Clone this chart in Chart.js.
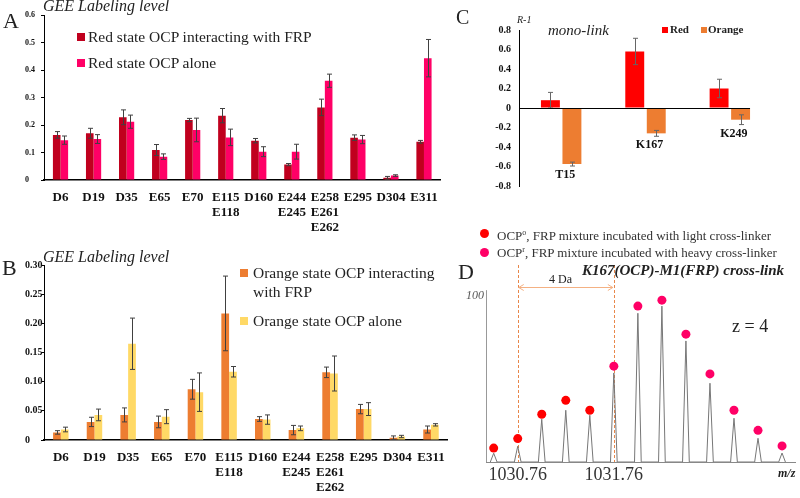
<!DOCTYPE html>
<html>
<head>
<meta charset="utf-8">
<script src="https://cdn.jsdelivr.net/npm/chart.js@4/dist/chart.umd.min.js"></script>
<style>
  body { margin: 0; background: #fff; }
  #page { position: relative; width: 800px; height: 498px; overflow: hidden;
          font-family: 'Times New Roman', 'Liberation Serif', serif; color: #222; }
  canvas { position: absolute; }
  .t { position: absolute; white-space: nowrap; line-height: 1; }
  .sq { position: absolute; }
  .dot { position: absolute; width: 9px; height: 9px; border-radius: 50%; }
</style>
</head>
<body>
<div id="page">
  <canvas id="chartA" width="450" height="240" style="left:0;top:0"></canvas>
  <canvas id="chartB" width="455" height="258" style="left:0;top:240px"></canvas>
  <canvas id="chartC" width="350" height="200" style="left:450px;top:0"></canvas>
  <canvas id="chartD" width="345" height="298" style="left:455px;top:200px"></canvas>

  <!-- panel A -->
  <div class="t" style="left:3px;top:10px;font-size:22px">A</div>
  <div class="t" style="left:43px;top:-2px;font-size:16px;font-style:italic">GEE Labeling level</div>
  <div class="sq" style="left:77px;top:33px;width:8px;height:8px;background:#C0001E"></div>
  <div class="t" style="left:88px;top:29px;font-size:15.5px">Red state OCP interacting with FRP</div>
  <div class="sq" style="left:77px;top:59px;width:8px;height:8px;background:#FF0066"></div>
  <div class="t" style="left:88px;top:55px;font-size:15.5px">Red state OCP alone</div>

  <!-- panel B -->
  <div class="t" style="left:2px;top:257px;font-size:22px">B</div>
  <div class="t" style="left:43px;top:249px;font-size:16px;font-style:italic">GEE Labeling level</div>
  <div class="sq" style="left:240px;top:269px;width:8px;height:8px;background:#ED7D31"></div>
  <div class="t" style="left:253px;top:265px;font-size:15.5px;line-height:19px;margin-top:-2px">Orange state OCP interacting<br>with FRP</div>
  <div class="sq" style="left:240px;top:317px;width:8px;height:8px;background:#FFD966"></div>
  <div class="t" style="left:253px;top:313px;font-size:15.5px">Orange state OCP alone</div>

  <!-- panel C -->
  <div class="t" style="left:456px;top:7px;font-size:20px">C</div>
  <div class="t" style="left:517px;top:15px;font-size:10px;font-style:italic">R-1</div>
  <div class="t" style="left:548px;top:23px;font-size:15px;font-style:italic">mono-link</div>
  <div class="sq" style="left:662px;top:27px;width:6px;height:6px;background:#FF0000"></div>
  <div class="t" style="left:670px;top:24px;font-size:11px;font-weight:bold">Red</div>
  <div class="sq" style="left:701px;top:27px;width:6px;height:6px;background:#ED7D31"></div>
  <div class="t" style="left:708px;top:24px;font-size:11px;font-weight:bold">Orange</div>

  <!-- panel D -->
  <div class="dot" style="left:480px;top:229px;background:#FF0000"></div>
  <div class="t" style="left:497px;top:229px;font-size:13px;color:#333">OCP<sup style="font-size:8px">o</sup>, FRP mixture incubated with light cross-linker</div>
  <div class="dot" style="left:480px;top:248px;background:#FF0066"></div>
  <div class="t" style="left:497px;top:246px;font-size:13px;color:#333">OCP<sup style="font-size:8px">r</sup>, FRP mixture incubated with heavy cross-linker</div>
  <div class="t" style="left:458px;top:261px;font-size:22px">D</div>
  <div class="t" style="left:549px;top:273px;font-size:12px">4 Da</div>
  <div class="t" style="left:582px;top:263px;font-size:15px;font-weight:bold;font-style:italic">K167(OCP)-M1(FRP) cross-link</div>
  <div class="t" style="left:732px;top:317px;font-size:18px">z = 4</div>
  <div class="t" style="left:778px;top:467px;font-size:12px;font-weight:bold;font-style:italic">m/z</div>
</div>

<script>
const serif = "'Times New Roman', 'Liberation Serif', serif";

// A and B: GEE labeling per residue
const residueLabels = ['D6', 'D19', 'D35', 'E65', 'E70', ['E115', 'E118'], 'D160',
  ['E244', 'E245'], ['E258', 'E261', 'E262'], 'E295', 'D304', 'E311'];
const redWithFrp = [0.164, 0.170, 0.228, 0.109, 0.218, 0.234, 0.143, 0.056, 0.264, 0.154, 0.008, 0.139];
const redWithFrpErr = [0.012, 0.018, 0.027, 0.020, 0.006, 0.026, 0.008, 0.004, 0.030, 0.010, 0.005, 0.005];
const redAlone = [0.145, 0.149, 0.212, 0.085, 0.182, 0.155, 0.103, 0.103, 0.361, 0.147, 0.016, 0.443];
const redAloneErr = [0.015, 0.016, 0.024, 0.010, 0.043, 0.030, 0.018, 0.027, 0.024, 0.015, 0.003, 0.068];
const orangeWithFrp = [0.013, 0.031, 0.043, 0.031, 0.087, 0.217, 0.036, 0.017, 0.116, 0.053, 0.004, 0.018];
const orangeWithFrpErr = [0.003, 0.008, 0.012, 0.010, 0.017, 0.064, 0.004, 0.008, 0.009, 0.008, 0.003, 0.006];
const orangeAlone = [0.018, 0.043, 0.165, 0.040, 0.082, 0.117, 0.035, 0.020, 0.114, 0.053, 0.006, 0.026];
const orangeAloneErr = [0.004, 0.010, 0.044, 0.012, 0.033, 0.009, 0.008, 0.004, 0.030, 0.011, 0.002, 0.002];

// C: mono-link R-1
const monoSites = ['T15', 'K167', 'K249'];
const monoRed = [0.08, 0.58, 0.20];
const monoRedErr = [0.08, 0.135, 0.095];
const monoOrange = [-0.575, -0.26, -0.12];
const monoOrangeErr = [0.02, 0.03, 0.05];

// D: isotope cluster of the cross-link (z = 4)
const peakMz = [1030.51, 1030.76, 1031.01, 1031.26, 1031.51, 1031.76, 1032.01,
  1032.26, 1032.51, 1032.76, 1033.01, 1033.26, 1033.51];
const peakIntensity = [5.3, 9.5, 25.8, 31.2, 28.2, 53.7, 89.7, 94.0, 73.0, 47.5, 26.4, 14.3, 5.4];
const markerIntensity = [8.4, 14.1, 28.8, 37.2, 31.2, 57.8, 94.0, 97.6, 77.1, 53.1, 31.2, 19.1, 9.7];
const lightPeakCount = 5;
const mzTicks = [1030.76, 1031.76];

const errorBars = {
  id: 'errorBars',
  afterDatasetsDraw(chart) {
    const ctx = chart.ctx, y = chart.scales.y;
    chart.data.datasets.forEach((ds, i) => {
      if (!ds.errors) return;
      const meta = chart.getDatasetMeta(i);
      ctx.save();
      ctx.strokeStyle = ds.errorColor || '#404040';
      ctx.lineWidth = 1;
      meta.data.forEach((bar, j) => {
        const top = y.getPixelForValue(ds.data[j] + ds.errors[j]);
        const bot = y.getPixelForValue(ds.data[j] - ds.errors[j]);
        const x = Math.round(bar.x) + 0.5;
        ctx.beginPath();
        ctx.moveTo(x, top); ctx.lineTo(x, bot);
        ctx.moveTo(x - 2.5, top); ctx.lineTo(x + 2.5, top);
        ctx.moveTo(x - 2.5, bot); ctx.lineTo(x + 2.5, bot);
        ctx.stroke();
      });
      ctx.restore();
    });
  }
};

function labelingChart(id, sets, yMax, yStep, tickSize, pad, xHeight) {
  return new Chart(document.getElementById(id), {
    type: 'bar',
    data: {
      labels: residueLabels,
      datasets: sets.map(s => ({
        data: s.data, errors: s.err, backgroundColor: s.color,
        categoryPercentage: 0.46, barPercentage: 1.0
      }))
    },
    options: {
      responsive: false,
      animation: false,
      layout: { padding: pad },
      plugins: { legend: { display: false }, tooltip: { enabled: false } },
      scales: {
        x: {
          grid: { display: false, drawTicks: false },
          border: { color: '#000', width: 1.5 },
          ticks: {
            color: '#111', padding: 10, autoSkip: false, maxRotation: 0,
            font: { family: serif, size: 13, weight: 'bold', lineHeight: 1.15 }
          },
          afterFit(s) { s.height = xHeight; }
        },
        y: {
          min: 0, max: yMax,
          grid: { drawOnChartArea: false, tickLength: 3, color: '#000' },
          border: { color: '#000', width: 1 },
          ticks: {
            stepSize: yStep, crossAlign: 'far', color: '#111',
            font: { family: serif, size: tickSize, weight: 'bold' }
          },
          afterFit(s) { s.width = 44 - pad.left; }
        }
      }
    },
    plugins: [errorBars]
  });
}

labelingChart('chartA', [
  { data: redWithFrp, err: redWithFrpErr, color: '#C0001E' },
  { data: redAlone, err: redAloneErr, color: '#FF0066' }
], 0.6, 0.1, 8, { left: 25, top: 15, right: 9.5, bottom: 0 }, 60);

labelingChart('chartB', [
  { data: orangeWithFrp, err: orangeWithFrpErr, color: '#ED7D31' },
  { data: orangeAlone, err: orangeAloneErr, color: '#FFD966' }
], 0.3, 0.05, 10, { left: 25, top: 25, right: 6.5, bottom: 0 }, 58);

// C: zero line and site labels under the bars
const monoDecor = {
  id: 'monoDecor',
  afterDatasetsDraw(chart) {
    const { ctx, chartArea, scales: { x, y } } = chart;
    const orangeMeta = chart.getDatasetMeta(1);
    const last = orangeMeta.data[orangeMeta.data.length - 1];
    const y0 = Math.round(y.getPixelForValue(0)) + 0.5;
    ctx.save();
    ctx.strokeStyle = '#000';
    ctx.lineWidth = 1;
    ctx.beginPath();
    ctx.moveTo(chartArea.left, y0);
    ctx.lineTo(last.x + last.width / 2, y0);
    ctx.stroke();
    ctx.fillStyle = '#111';
    ctx.font = 'bold 12px ' + serif;
    ctx.textAlign = 'center';
    ctx.textBaseline = 'top';
    monoSites.forEach((site, j) => {
      const low = y.getPixelForValue(monoOrange[j] - monoOrangeErr[j]);
      ctx.fillText(site, x.getPixelForValue(j) + 4, low + 3);
    });
    ctx.restore();
  }
};

new Chart(document.getElementById('chartC'), {
  type: 'bar',
  data: {
    labels: monoSites,
    datasets: [
      { label: 'Red', data: monoRed, errors: monoRedErr, errorColor: '#666', backgroundColor: '#FF0000',
        categoryPercentage: 0.51, barPercentage: 0.88 },
      { label: 'Orange', data: monoOrange, errors: monoOrangeErr, errorColor: '#666', backgroundColor: '#ED7D31',
        categoryPercentage: 0.51, barPercentage: 0.88 }
    ]
  },
  options: {
    responsive: false,
    animation: false,
    layout: { padding: { left: 0, top: 30, right: 28, bottom: 14 } },
    plugins: { legend: { display: false }, tooltip: { enabled: false } },
    scales: {
      x: { display: false },
      y: {
        min: -0.8, max: 0.8,
        grid: { drawOnChartArea: false, drawTicks: false },
        border: { color: '#000', width: 1 },
        ticks: {
          stepSize: 0.2, padding: 8, color: '#111',
          font: { family: serif, size: 10, weight: 'bold' },
          callback: v => String(Math.round(v * 10) / 10)
        },
        afterFit(s) { s.width = 69; }
      }
    }
  },
  plugins: [errorBars, monoDecor]
});

// D: spectrum
const peakHalfWidth = 0.035;
const peakTrace = [];
peakMz.forEach((mz, i) => {
  peakTrace.push({ x: mz - peakHalfWidth, y: 0 }, { x: mz, y: peakIntensity[i] }, { x: mz + peakHalfWidth, y: 0 });
});
const lightMarks = peakMz.slice(0, lightPeakCount).map((mz, i) => ({ x: mz, y: markerIntensity[i] }));
const heavyMarks = peakMz.slice(lightPeakCount).map((mz, i) => ({ x: mz, y: markerIntensity[i + lightPeakCount] }));

const mzGuides = {
  id: 'mzGuides',
  beforeDatasetsDraw(chart) {
    const { ctx, chartArea, scales: { x, y } } = chart;
    ctx.save();
    ctx.lineWidth = 1;
    ctx.strokeStyle = '#999';
    const ax = Math.round(chartArea.left) + 0.5;
    ctx.beginPath();
    ctx.moveTo(ax, y.getPixelForValue(0));
    ctx.lineTo(ax, y.getPixelForValue(100) - 6);
    ctx.stroke();

    ctx.strokeStyle = '#E8874A';
    ctx.setLineDash([3, 2]);
    mzTicks.forEach(v => {
      const px = Math.round(x.getPixelForValue(v)) + 0.5;
      ctx.beginPath();
      ctx.moveTo(px, chartArea.top + 2);
      ctx.lineTo(px, y.getPixelForValue(0));
      ctx.stroke();
    });

    ctx.setLineDash([]);
    ctx.strokeStyle = '#F4B183';
    const x1 = x.getPixelForValue(mzTicks[0]) + 1, x2 = x.getPixelForValue(mzTicks[1]) - 1;
    const ay = Math.round(chartArea.top + 24) + 0.5;
    ctx.beginPath();
    ctx.moveTo(x1, ay); ctx.lineTo(x2, ay);
    ctx.moveTo(x1 + 5, ay - 3); ctx.lineTo(x1, ay); ctx.lineTo(x1 + 5, ay + 3);
    ctx.moveTo(x2 - 5, ay - 3); ctx.lineTo(x2, ay); ctx.lineTo(x2 - 5, ay + 3);
    ctx.stroke();
    ctx.restore();
  }
};

new Chart(document.getElementById('chartD'), {
  type: 'scatter',
  data: {
    datasets: [
      { data: heavyMarks, pointRadius: 4.5, pointBackgroundColor: '#FF0066', pointBorderWidth: 0 },
      { data: lightMarks, pointRadius: 4.5, pointBackgroundColor: '#FF0000', pointBorderWidth: 0 },
      { data: peakTrace, showLine: true, borderColor: '#777', borderWidth: 1, pointRadius: 0 }
    ]
  },
  options: {
    responsive: false,
    animation: false,
    layout: { padding: { left: 0, top: 63, right: 2, bottom: 0 } },
    plugins: { legend: { display: false }, tooltip: { enabled: false } },
    scales: {
      x: {
        type: 'linear', min: 1030.43, max: 1033.65,
        afterBuildTicks(s) { s.ticks = mzTicks.map(v => ({ value: v })); },
        grid: { display: false, drawTicks: false },
        border: { color: '#888', width: 1 },
        ticks: {
          padding: 2, color: '#333', autoSkip: false, maxRotation: 0,
          font: { family: serif, size: 18 },
          callback: v => Number(v).toFixed(2)
        },
        afterFit(s) { s.height = 36; }
      },
      y: {
        min: 0, max: 120,
        afterBuildTicks(s) { s.ticks = [{ value: 100 }]; },
        grid: { display: false, drawTicks: false },
        border: { display: false },
        ticks: {
          padding: 2, color: '#555',
          font: { family: serif, size: 12, style: 'italic' },
          callback: v => String(v)
        },
        afterFit(s) { s.width = 31; }
      }
    }
  },
  plugins: [mzGuides]
});
</script>
</body>
</html>
